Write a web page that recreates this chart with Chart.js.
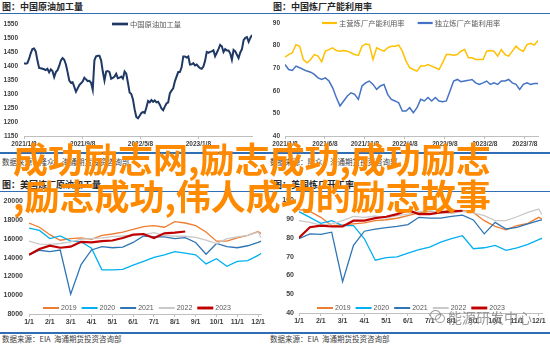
<!DOCTYPE html>
<html>
<head>
<meta charset="utf-8">
<script src="https://cdn.jsdelivr.net/npm/chart.js@4.4.1/dist/chart.umd.min.js"></script>
<style>
html, body { margin: 0; padding: 0; background: #fff; }
#page { position: relative; width: 550px; height: 345px; overflow: hidden; font-family: "Noto Sans CJK SC", sans-serif; }
#page canvas { position: absolute; }
.rule { position: absolute; left: 0; width: 550px; height: 1.5px; background: #2f6db5; }
.title { position: absolute; font-size: 9px; line-height: 9px; font-weight: bold; color: #262626; white-space: nowrap; }
.src { position: absolute; font-size: 7.5px; line-height: 8px; color: #404040; white-space: nowrap; }
#slogan { position: absolute; left: 13px; top: 139px; font-size: 35px; line-height: 37px; font-weight: bold; color: #ff8a00; white-space: nowrap; }
#mark { position: absolute; left: 430px; top: 310px; color: rgba(130,130,130,0.8); font-size: 14px; line-height: 14px; white-space: nowrap; }
#mark .ico { display: inline-block; position: relative; width: 15px; height: 12px; vertical-align: top; margin-right: 3px; }
#mark .ico i { position: absolute; border: 1px solid rgba(130,130,130,0.8); border-radius: 50%; }
</style>
</head>
<body>
<div id="page">
  <div class="title" style="left:2px;top:2px;">图：中国原油加工量</div>
  <div class="title" style="left:273px;top:2px;">图：中国炼厂产能利用率</div>
  <div class="rule" style="top:12.5px;"></div>
  <canvas id="crude" width="262" height="138" style="left:0;top:14px;"></canvas>
  <canvas id="rate" width="282" height="138" style="left:268px;top:14px;"></canvas>
  <div class="rule" style="top:152px;"></div>
  <div class="src" style="left:2px;top:158px;">数据来源：隆众、海通期货投资咨询部</div>
  <div class="src" style="left:270px;top:158px;">数据来源：隆众、海通期货投资咨询部</div>

  <div class="title" style="left:2px;top:180px;">图：美国炼厂原油加工量</div>
  <div class="title" style="left:273px;top:180px;">图：美国炼厂开工率</div>
  <div class="rule" style="top:190.5px;"></div>
  <canvas id="usInput" width="266" height="141" style="left:0;top:191px;"></canvas>
  <canvas id="usUtil" width="282" height="141" style="left:268px;top:191px;"></canvas>
  <div class="rule" style="top:332px;"></div>
  <div class="src" style="left:2px;top:335px;">数据来源：EIA&nbsp;&nbsp;海通期货投资咨询部</div>
  <div class="src" style="left:270px;top:335px;">数据来源：EIA&nbsp;&nbsp;海通期货投资咨询部</div>

  <div id="mark"><span class="ico"><i style="left:0;top:0;width:9px;height:8px;"></i><i style="left:5px;top:4px;width:8px;height:7px;"></i></span>能源研发中心</div>
  <div id="slogan">成功励志网,励志成功,成功励志<br>,励志成功,伟人成功的励志故事</div>
</div>
<script>
// 中国原油加工量, weekly from 2021/1/8
var crudeRun = [1410, 1408, 1410, 1425, 1445, 1460, 1462, 1452, 1420, 1393,
    1392, 1390, 1388, 1385, 1390, 1377, 1388, 1382, 1360, 1378,
    1385, 1400, 1420, 1428, 1422, 1405, 1378, 1348, 1340, 1342,
    1325, 1308, 1320, 1332, 1338, 1345, 1358, 1352, 1346, 1347,
    1340, 1315, 1420, 1434, 1436, 1436, 1420, 1380, 1348, 1380,
    1382, 1378, 1354, 1357, 1362, 1372, 1356, 1358, 1362, 1355,
    1380, 1372, 1340, 1305, 1300, 1280, 1245, 1218, 1213, 1222,
    1232, 1236, 1232, 1252, 1275, 1270, 1278, 1272, 1277, 1270,
    1272, 1262, 1248, 1242, 1255, 1266, 1270, 1302, 1312, 1320,
    1345, 1362, 1378, 1378, 1395, 1434, 1434, 1430, 1434, 1405,
    1406, 1410, 1402, 1405, 1398, 1392, 1390, 1398, 1418, 1450,
    1447, 1450, 1452, 1456, 1435, 1447, 1460, 1475, 1470, 1450,
    1460, 1455, 1455, 1445, 1422, 1457, 1452, 1440, 1428, 1448,
    1460, 1492, 1500, 1503, 1486, 1500, 1510];
var crudeTickPos = [0, 35, 69.5, 104];
var crudeTickText = ["2021/1/8", "2021/9/8", "2022/5/8", "2023/1/8"];

// 中国炼厂产能利用率, every two weeks from 2021/1/8
var majorRate = [74.9, 76, 76.8, 80.4, 79.7, 73.8, 72.4, 73.8, 76, 75.3,
    72.8, 77.5, 78.2, 79, 77.8, 77.5, 77.8, 77.5, 76.8, 76,
    75.6, 79.7, 80.7, 80.4, 73.8, 79, 78.2, 77.5, 79, 79.7,
    79.7, 80.2, 77.5, 73.1, 70.2, 69.4, 68.7, 70.9, 70.9, 71.6,
    70.9, 70.2, 69.4, 72.4, 76, 76, 75.7, 76, 77.5, 78.2,
    74.6, 74.6, 73.8, 73.8, 73.8, 77.5, 77.8, 77.5, 75.3, 78.2,
    76, 75.3, 77.5, 79.7, 78.2, 77.5, 80.4, 81, 80.2, 82.2];
var indepRate = [71.6, 69.4, 69, 70.9, 70.2, 69.4, 68.7, 68.2, 67.2, 65.7,
    65, 65.7, 64.3, 61.3, 57, 53.3, 55.5, 57.7, 59.1, 58.4,
    56.2, 62.1, 63.5, 64.3, 62.8, 60.6, 62.1, 62.8, 58.4, 56.2,
    55.5, 54.7, 51, 51, 52.5, 50.3, 52.5, 56.2, 55.5, 57,
    55.5, 57, 55.5, 55.2, 55.5, 59.9, 64.3, 65, 64, 64.3,
    64.6, 65, 63.5, 62.8, 63.5, 64.3, 62.8, 63.5, 62.8, 64.3,
    64.3, 65, 63.5, 62.8, 60.6, 62.8, 63.5, 62.8, 63.2, 63.2];
var rateNames = ["主营炼厂产能利用率", "独立炼厂产能利用率"];
var rateTickPos = [0, 10.9, 21.8, 32.7, 43.6, 54.5, 65.4];
var rateTickText = ["2021/1/8", "2021/6/8", "2021/11/8", "2022/4/8", "2022/9/8", "2023/2/8", "2023/7/8"];

// US charts: x in months since 1/1, sampled every half month
var monthPos = [0, 0.5, 1, 1.5, 2, 2.5, 3, 3.5, 4, 4.5, 5, 5.5, 6, 6.5, 7, 7.5, 8, 8.5, 9, 9.5, 10, 10.5, 11, 11.15];
var monthTickPos = [0, 1, 2, 3, 4, 5, 6, 7, 8, 9, 10, 11];
var monthText = ["1/1", "2/1", "3/1", "4/1", "5/1", "6/1", "7/1", "8/1", "9/1", "10/1", "11/1", "12/1"];
var years = ["2019", "2020", "2021", "2022", "2023"];

// 美国炼厂原油加工量
var usInput2019 = [17680, 17230, 16440, 15850, 16020, 16090, 15950, 16370, 16510, 16720, 16990, 17300, 17400, 17230, 17820, 17680, 17400, 16720, 15750, 15750, 16090, 16370, 16780, 16540];
var usInput2020 = [17130, 16890, 16020, 16300, 15750, 15680, 15000, 12700, 12700, 12740, 13190, 13600, 14020, 14290, 14640, 14470, 14290, 13330, 13880, 13080, 13600, 13670, 14230, 14470];
var usInput2021 = [14290, 14780, 14640, 14810, 10100, 13260, 14810, 15160, 15050, 15120, 15610, 16300, 16200, 16200, 16020, 16130, 15610, 14360, 15500, 15160, 15050, 15260, 15610, 15750];
var usInput2022 = [15750, 15440, 15400, 15500, 15680, 15950, 16020, 16090, 16230, 16300, 16370, 16440, 16650, 16370, 16270, 16270, 16160, 15850, 15500, 16020, 16200, 16370, 16720, 16090];
var usInput2023 = [14290, 14920, 15260, 15050, 15160, 15680, 15610, 15750, 15820, 16090, 16440, 16510, 16090, 16580, 16650, 16780];

// 美国炼厂开工率
var usUtil2019 = [95, 94, 90.9, 86.5, 86.8, 87.4, 87.9, 89.1, 89.6, 90.4, 91.8, 93.2, 93.9, 93.9, 94.7, 94.4, 93.5, 89.1, 86.1, 84.2, 86.5, 87.7, 90.9, 90];
var usUtil2020 = [93.9, 90.9, 87.7, 89.1, 86.5, 86.5, 79.5, 68.1, 69.5, 69.8, 71.9, 73.7, 75.1, 77.7, 79.5, 81.1, 74.2, 74.7, 76, 73.3, 74.7, 76.5, 79, 79.8];
var usUtil2021 = [79.5, 82.1, 81.8, 83, 56.7, 76, 83.5, 84.6, 85.4, 86.1, 87, 90.9, 90.5, 90.5, 91.4, 92.1, 89.5, 82.1, 88.2, 84.7, 85.6, 87.4, 89.1, 89.6];
var usUtil2022 = [89.1, 88.2, 86.8, 87.4, 89.1, 91.4, 90.9, 91.6, 90.5, 91.8, 92.6, 93.9, 94.4, 93.3, 93, 94, 93.3, 91.8, 89.1, 89.1, 91.2, 93.5, 95.3, 92.3];
var usUtil2023 = [80, 85.6, 86.5, 86, 86, 89.1, 89.1, 90.5, 91.2, 92.6, 94.7, 92.6, 92.6, 93.5, 94, 94.4];

var yearColors = ["#ed7d31", "#00b0f0", "#2e75b6", "#c9c9c9", "#c00000"];
var yearWidths = [1.3, 1.3, 1.3, 1.3, 2.2];

Chart.defaults.font.family = '"Liberation Sans", "Noto Sans CJK SC", sans-serif';
Chart.defaults.color = "#404040";

// legend drawn inside the plot, as in the source charts
var innerLegend = {
    id: "innerLegend",
    afterDatasetsDraw: function(chart, args, o) {
        var ctx = chart.ctx, x = o.x;
        ctx.save();
        ctx.font = o.font;
        ctx.textBaseline = "middle";
        chart.data.datasets.forEach(function(ds) {
            ctx.strokeStyle = ds.borderColor;
            ctx.lineWidth = ds.borderWidth + 0.7;
            ctx.beginPath(); ctx.moveTo(x, o.y); ctx.lineTo(x + o.line, o.y); ctx.stroke();
            x += o.line + 2;
            ctx.fillStyle = "#595959";
            ctx.fillText(ds.label, x, o.y);
            x += ctx.measureText(ds.label).width + o.gap;
        });
        ctx.restore();
    }
};

function pts(xs, ys) {
    return ys.map(function(v, i) { return { x: xs[i], y: v }; });
}

function xAxis(max, pos, text, h, size) {
    return {
        type: "linear", min: 0, max: max,
        afterBuildTicks: function(s) { s.ticks = pos.map(function(v) { return { value: v }; }); },
        afterFit: function(s) { s.height = h; },
        ticks: { autoSkip: false, maxRotation: 0, padding: 1, font: { size: size, weight: "bold" },
            callback: function(v, i) { return text[i]; } },
        grid: { drawOnChartArea: false, color: "#bfbfbf", tickLength: 3 },
        border: { color: "#bfbfbf" }
    };
}

function yAxis(min, max, step, w, size, gap) {
    return {
        min: min, max: max,
        afterFit: function(s) { s.width = w; },
        ticks: { stepSize: step, padding: gap, font: { size: size, weight: "bold" },
            callback: function(v) { return String(v); } },
        grid: { display: false, drawTicks: false },
        border: { display: false }
    };
}

function makeChart(id, datasets, xs, ys, pad, legend) {
    return new Chart(document.getElementById(id), {
        type: "line",
        data: { datasets: datasets },
        options: {
            responsive: false, animation: false,
            layout: { padding: pad },
            elements: { point: { radius: 0 }, line: { tension: 0 } },
            scales: { x: xs, y: ys },
            plugins: { legend: { display: false }, tooltip: { enabled: false }, innerLegend: legend }
        },
        plugins: [innerLegend]
    });
}

var weekIdx = crudeRun.map(function(v, i) { return i; });
makeChart("crude",
    [{ label: "中国原油加工量", data: pts(weekIdx, crudeRun), borderColor: "#1f3864", borderWidth: 2 }],
    xAxis(136, crudeTickPos, crudeTickText, 16, 6.5),
    yAxis(1150, 1550, 50, 24, 6.5, 6),
    { top: 6, right: 10, left: 0, bottom: 0 },
    { x: 112, y: 10, line: 16, gap: 10, font: '7.3px "Noto Sans CJK SC"' });

var biweekIdx = majorRate.map(function(v, i) { return i; });
makeChart("rate",
    [{ label: rateNames[0], data: pts(biweekIdx, majorRate), borderColor: "#ffc000", borderWidth: 1.5 },
     { label: rateNames[1], data: pts(biweekIdx, indepRate), borderColor: "#4472c4", borderWidth: 1.5 }],
    xAxis(69, rateTickPos, rateTickText, 16, 6.5),
    yAxis(40, 90, 10, 17, 6.5, 5),
    { top: 8, right: 12, left: 0, bottom: 0 },
    { x: 54, y: 9, line: 15, gap: 13, font: '7.3px "Noto Sans CJK SC"' });

function yearSets(series) {
    return series.map(function(s, i) {
        return { label: years[i], data: pts(monthPos, s), borderColor: yearColors[i], borderWidth: yearWidths[i], order: 5 - i };
    });
}

makeChart("usInput",
    yearSets([usInput2019, usInput2020, usInput2021, usInput2022, usInput2023]),
    xAxis(11.15, monthTickPos, monthText, 18, 7),
    yAxis(8000, 20000, 2000, 29, 7, 6),
    { top: 7, right: 4, left: 0, bottom: 0 },
    { x: 43, y: 117, line: 16, gap: 5, font: '7px "Liberation Sans"' });

makeChart("usUtil",
    yearSets([usUtil2019, usUtil2020, usUtil2021, usUtil2022, usUtil2023]),
    xAxis(11.15, monthTickPos, monthText, 19, 7),
    yAxis(40, 100, 10, 31, 7, 5),
    { top: 8, right: 8, left: 0, bottom: 0 },
    { x: 49, y: 117, line: 16, gap: 5, font: '7px "Liberation Sans"' });
</script>
</body>
</html>
